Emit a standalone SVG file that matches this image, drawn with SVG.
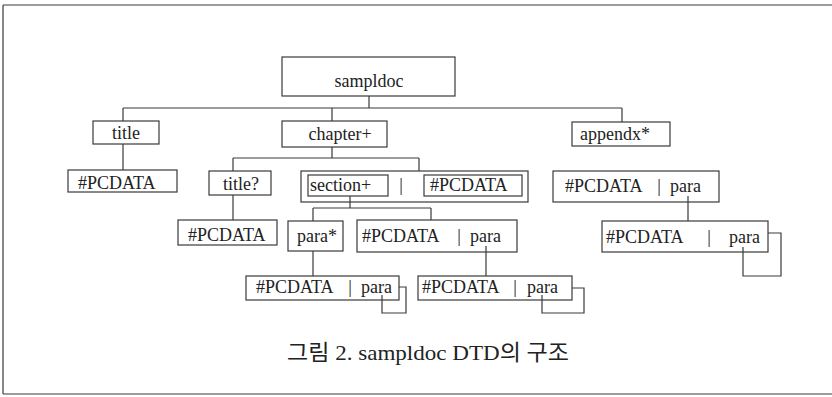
<svg xmlns="http://www.w3.org/2000/svg" width="832" height="397" viewBox="0 0 832 397">
  <style>
    .box { fill: none; stroke: #3a3a3a; stroke-width: 1.2; }
    .ln { fill: none; stroke: #3a3a3a; stroke-width: 1.2; }
    .t { font-family: "Liberation Serif", "Times New Roman", serif; font-size: 18px; fill: #222; }
    .cap { font-family: "Liberation Serif", "Noto Sans CJK KR", serif; font-size: 22px; fill: #222; }
  </style>
  <rect x="0" y="0" width="832" height="397" fill="#ffffff"/>

  <!-- page frame -->
  <g id="frame" class="ln">
    <path d="M3,5 H832 M3,5 V394 M3,394 H832"/>
  </g>

  <!-- connectors -->
  <g id="connectors" class="ln">
    <path d="M369,96 V108 M123,108 H622 M123,108 V121 M332,108 V121 M622,108 V122"/>
    <path d="M123,144 V170"/>
    <path d="M332,147 V158 M233,158 H419 M233,158 V171 M419,158 V171"/>
    <path d="M233,195 V220"/>
    <path d="M350,196 V208 M313,208 H431 M313,208 V221 M431,208 V220"/>
    <path d="M313,251 V276"/>
    <path d="M486,246 V276"/>
    <path d="M688,196 V221"/>
    <!-- recursive para loops -->
    <path d="M399,287 H406 V313 H382 V295"/>
    <path d="M572,288 H584 V313 H542 V295"/>
    <path d="M768,233 H781 V276 H743 V247"/>
  </g>

  <g id="sampldoc">
    <rect class="box" x="282" y="57" width="173" height="39"/>
    <text class="t" x="369" y="87" text-anchor="middle">sampldoc</text>
  </g>
  <g id="title">
    <rect class="box" x="93" y="121" width="66" height="23"/>
    <text class="t" x="126" y="139" text-anchor="middle">title</text>
  </g>
  <g id="chapter">
    <rect class="box" x="282" y="121" width="105" height="26"/>
    <text class="t" x="340" y="140" text-anchor="middle">chapter+</text>
  </g>
  <g id="appendx">
    <rect class="box" x="572" y="122" width="98" height="24"/>
    <text class="t" x="615" y="140" text-anchor="middle">appendx*</text>
  </g>
  <g id="title-pcdata">
    <rect class="box" x="68" y="170" width="109" height="22"/>
    <text class="t" x="78" y="189">#PCDATA</text>
  </g>
  <g id="chapter-title">
    <rect class="box" x="209" y="171" width="62" height="24"/>
    <text class="t" x="241" y="190" text-anchor="middle">title?</text>
  </g>
  <g id="section-choice">
    <rect class="box" x="301" y="171" width="227" height="31"/>
    <rect class="box" x="308" y="175" width="80" height="21"/>
    <text class="t" x="310" y="191">section+</text>
    <text class="t" x="401" y="191" text-anchor="middle">|</text>
    <rect class="box" x="424" y="175" width="98" height="21"/>
    <text class="t" x="430" y="191">#PCDATA</text>
  </g>
  <g id="chapter-title-pcdata">
    <rect class="box" x="178" y="220" width="99" height="25"/>
    <text class="t" x="188" y="241">#PCDATA</text>
  </g>
  <g id="para">
    <rect class="box" x="288" y="221" width="55" height="30"/>
    <text class="t" x="297" y="242">para*</text>
  </g>
  <g id="section-mixed">
    <rect class="box" x="357" y="220" width="160" height="32"/>
    <text class="t" x="362" y="242">#PCDATA</text>
    <text class="t" x="459" y="242" text-anchor="middle">|</text>
    <text class="t" x="470" y="242">para</text>
  </g>
  <g id="para-mixed">
    <rect class="box" x="246" y="276" width="153" height="24"/>
    <text class="t" x="256" y="293">#PCDATA</text>
    <text class="t" x="350" y="293" text-anchor="middle">|</text>
    <text class="t" x="361" y="293">para</text>
  </g>
  <g id="section-para-mixed">
    <rect class="box" x="418" y="276" width="154" height="24"/>
    <text class="t" x="422" y="293">#PCDATA</text>
    <text class="t" x="515" y="293" text-anchor="middle">|</text>
    <text class="t" x="527" y="293">para</text>
  </g>
  <g id="appendx-mixed">
    <rect class="box" x="553" y="171" width="166" height="31"/>
    <text class="t" x="565" y="192">#PCDATA</text>
    <text class="t" x="659" y="192" text-anchor="middle">|</text>
    <text class="t" x="670" y="192">para</text>
  </g>
  <g id="appendx-para-mixed">
    <rect class="box" x="602" y="221" width="166" height="31"/>
    <text class="t" x="606" y="243">#PCDATA</text>
    <text class="t" x="709" y="243" text-anchor="middle">|</text>
    <text class="t" x="729" y="243">para</text>
  </g>

  <g id="caption">
    <text class="cap" x="287" y="360" textLength="282" lengthAdjust="spacingAndGlyphs">그림 2. sampldoc DTD의 구조</text>
  </g>
</svg>
